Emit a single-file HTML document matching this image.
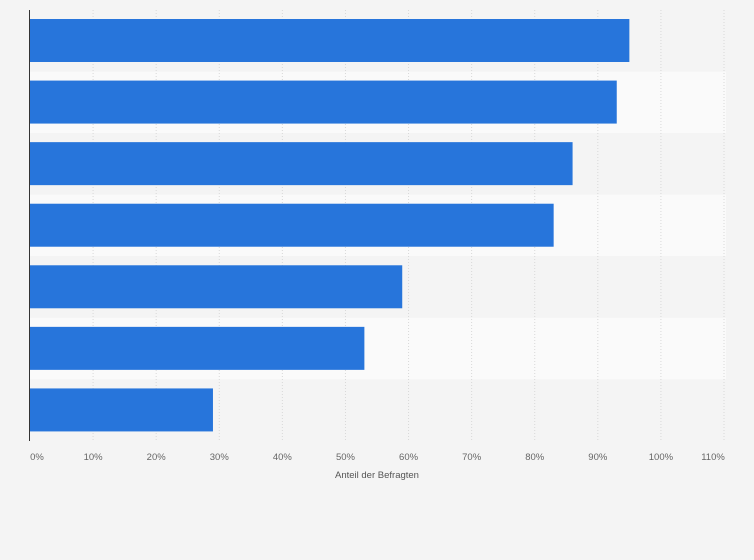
<!DOCTYPE html>
<html><head><meta charset="utf-8"><style>
body{margin:0;background:#f4f4f4;font-family:"Liberation Sans",sans-serif}
svg{display:block}
</style></head><body>
<svg id="chart" width="754" height="560" xmlns="http://www.w3.org/2000/svg"></svg>
<script>
const categories=["Item 1","Item 2","Item 3","Item 4","Item 5","Item 6","Item 7"];
const values=[95,93,86,83,59,53,29];
const ticks=[0,10,20,30,40,50,60,70,80,90,100,110];
const tickLabels=["0%","10%","20%","30%","40%","50%","60%","70%","80%","90%","100%","110%"];
const NS="http://www.w3.org/2000/svg";
const svg=document.getElementById('chart');
const L=30,R=724,T=10,B=441;
const x=v=>L+(R-L)*v/110;
const band=(B-T)/categories.length;
const y=i=>T+i*band;
function mk(t,a,p){const e=document.createElementNS(NS,t);for(const k in a)e.setAttribute(k,a[k]);(p||svg).appendChild(e);return e;}
categories.forEach((c,i)=>{
  const r=mk('rect',{x:L,y:y(i),width:R-L+2,height:band,fill:i%2?'#fafafa':'#f4f4f4'});
  
  
});
ticks.forEach((t,i)=>{
  if(i>0){const g=mk('line',{x1:x(t),x2:x(t),y1:T,y2:B,stroke:'#d8d8d8','stroke-dasharray':'1,2'});
  
  }
  const tx=mk('text',{x:x(t)+(i==0?7:(i==11?-11:0)),y:460,'text-anchor':'middle','font-size':'9.5',fill:'#666'});
  tx.textContent=tickLabels[i];
  
  
});
values.forEach((v,i)=>{
  const b=mk('rect',{x:L,y:y(i)+9,width:x(v)-L,height:43,fill:'#2775db'});
  
  
});
const ax=mk('line',{x1:29.5,x2:29.5,y1:T,y2:B,stroke:'#333','stroke-width':1});


const at=mk('text',{x:377,y:478,'text-anchor':'middle','font-size':'9.5',fill:'#555'});
at.textContent='Anteil der Befragten';


</script>
</body></html>
